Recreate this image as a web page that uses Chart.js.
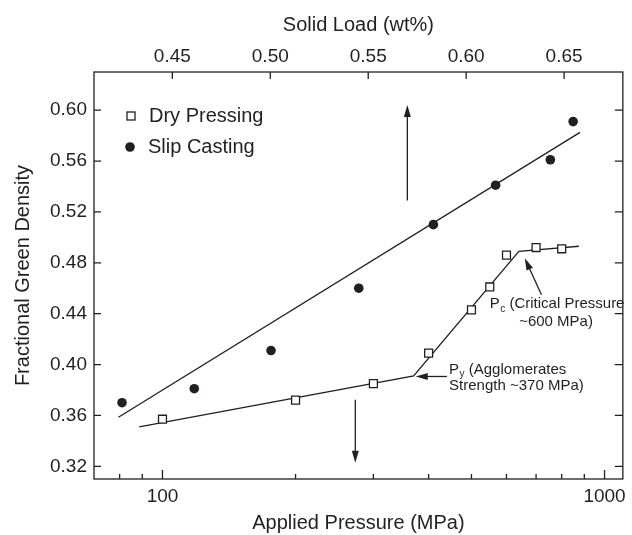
<!DOCTYPE html>
<html>
<head>
<meta charset="utf-8">
<script src="https://cdn.jsdelivr.net/npm/chart.js@4.4.1/dist/chart.umd.min.js"></script>
<style>
  html, body { margin: 0; padding: 0; background: #fff; }
</style>
</head>
<body>
<canvas id="green-density" width="632" height="535"></canvas>
<script>
// dry pressing (open squares)
var dryPressure = [100, 200, 300, 400, 500, 550, 600, 700, 800];
var dryDensity = [0.357, 0.372, 0.385, 0.409, 0.443, 0.461, 0.486, 0.492, 0.491];

// slip casting (filled circles)
var slipPressure = [81, 118, 176, 278, 410, 567, 754, 849];
var slipDensity = [0.370, 0.381, 0.411, 0.460, 0.510, 0.541, 0.561, 0.591];

// fitted lines as drawn in the figure
var dryFitPressure = [88.6, 370, 640, 875];
var dryFitDensity = [0.351, 0.391, 0.489, 0.493];
var slipFitPressure = [79.5, 880];
var slipFitDensity = [0.3585, 0.5825];

// axes
var densityTicks = [0.32, 0.36, 0.40, 0.44, 0.48, 0.52, 0.56, 0.60];
var pressureTicks = [80, 90, 100, 200, 300, 400, 500, 600, 700, 800, 900, 1000];
var pressureLabels = [100, 1000];
var solidLoadTicks = [0.45, 0.50, 0.55, 0.60, 0.65];

// arrows and notes, in (MPa, density)
var arrows = [
    { from: [358, 0.529], to: [358, 0.604] },
    { from: [273, 0.3724], to: [273, 0.3227] },
    { from: [720, 0.4548], to: [660, 0.4836] },
    { from: [440, 0.3906], to: [374, 0.3906] }
];
var notes = [
    { at: [550, 0.4477], main: 'P', sub: 'c', rest: ' (Critical Pressure' },
    { at: [641, 0.4338], main: '~600 MPa)', sub: '', rest: '' },
    { at: [445, 0.3959], main: 'P', sub: 'y', rest: ' (Agglomerates' },
    { at: [445, 0.3833], main: 'Strength ~370 MPa)', sub: '', rest: '' }
];

var ink = '#231f20';
var family = "'Liberation Sans', Arial, Helvetica, sans-serif";

function pairs(xs, ys) {
    return xs.map(function (x, i) { return { x: x, y: ys[i] }; });
}

const frameTicks = {
    id: 'frameTicks',
    afterDraw(chart) {
        const ctx = chart.ctx;
        const a = chart.chartArea;
        const s = chart.scales;
        ctx.save();
        ctx.strokeStyle = ink;
        ctx.lineWidth = 1.3;
        ctx.strokeRect(a.left, a.top, a.right - a.left, a.bottom - a.top);
        ctx.beginPath();
        densityTicks.forEach(function (v) {
            const y = s.y.getPixelForValue(v);
            ctx.moveTo(a.left, y); ctx.lineTo(a.left + 7, y);
            ctx.moveTo(a.right, y); ctx.lineTo(a.right - 8, y);
        });
        pressureTicks.forEach(function (v) {
            const x = s.x.getPixelForValue(v);
            const len = pressureLabels.includes(v) ? 9 : 5;
            ctx.moveTo(x, a.bottom); ctx.lineTo(x, a.bottom - len);
        });
        solidLoadTicks.forEach(function (v) {
            const x = s.x2.getPixelForValue(v);
            ctx.moveTo(x, a.top); ctx.lineTo(x, a.top + 7);
        });
        ctx.stroke();
        ctx.restore();
    }
};

const notesAndArrows = {
    id: 'notesAndArrows',
    afterDatasetsDraw(chart) {
        const ctx = chart.ctx;
        const sx = chart.scales.x;
        const sy = chart.scales.y;
        ctx.save();
        ctx.strokeStyle = ink;
        ctx.fillStyle = ink;
        ctx.lineWidth = 1.3;
        arrows.forEach(function (ar) {
            const x0 = sx.getPixelForValue(ar.from[0]), y0 = sy.getPixelForValue(ar.from[1]);
            const x1 = sx.getPixelForValue(ar.to[0]), y1 = sy.getPixelForValue(ar.to[1]);
            const ang = Math.atan2(y1 - y0, x1 - x0);
            const hl = 12, hw = 3.5;
            ctx.beginPath();
            ctx.moveTo(x0, y0);
            ctx.lineTo(x1 - Math.cos(ang) * hl * 0.8, y1 - Math.sin(ang) * hl * 0.8);
            ctx.stroke();
            ctx.beginPath();
            ctx.moveTo(x1, y1);
            ctx.lineTo(x1 - Math.cos(ang) * hl - Math.sin(ang) * hw, y1 - Math.sin(ang) * hl + Math.cos(ang) * hw);
            ctx.lineTo(x1 - Math.cos(ang) * hl + Math.sin(ang) * hw, y1 - Math.sin(ang) * hl - Math.cos(ang) * hw);
            ctx.closePath();
            ctx.fill();
        });
        ctx.textBaseline = 'middle';
        ctx.textAlign = 'left';
        notes.forEach(function (n) {
            let x = sx.getPixelForValue(n.at[0]);
            const y = sy.getPixelForValue(n.at[1]);
            ctx.font = '15px ' + family;
            ctx.fillText(n.main, x, y);
            x += ctx.measureText(n.main).width;
            if (n.sub) {
                ctx.font = '10px ' + family;
                ctx.fillText(n.sub, x + 0.5, y + 5);
                x += ctx.measureText(n.sub).width + 0.5;
            }
            if (n.rest) {
                ctx.font = '15px ' + family;
                ctx.fillText(n.rest, x, y);
            }
        });
        ctx.restore();
    }
};

const insideLegend = {
    id: 'insideLegend',
    afterDatasetsDraw(chart) {
        const ctx = chart.ctx;
        const a = chart.chartArea;
        ctx.save();
        ctx.strokeStyle = ink;
        ctx.fillStyle = ink;
        ctx.lineWidth = 1.3;
        // Dry Pressing
        let cx = a.left + 37, cy = a.top + 44;
        ctx.fillStyle = '#fff';
        ctx.fillRect(cx - 4, cy - 4, 8, 8);
        ctx.strokeRect(cx - 4, cy - 4, 8, 8);
        ctx.fillStyle = ink;
        ctx.font = '20px ' + family;
        ctx.textBaseline = 'middle';
        ctx.fillText(chart.data.datasets[0].label, a.left + 55, cy);
        // Slip Casting
        cx = a.left + 36; cy = a.top + 75;
        ctx.beginPath();
        ctx.arc(cx, cy, 4.8, 0, Math.PI * 2);
        ctx.fill();
        ctx.fillText(chart.data.datasets[1].label, a.left + 54, cy);
        ctx.restore();
    }
};

const tickFont = { family: family, size: 19 };
const titleFont = { family: family, size: 20 };

const ctx = document.getElementById('green-density');

var densityChart = new Chart(ctx, {
    type: 'scatter',
    data: {
        datasets: [{
            label: 'Dry Pressing',
            data: pairs(dryPressure, dryDensity),
            pointStyle: 'rect',
            pointRadius: 5.6,
            backgroundColor: '#fff',
            borderColor: ink,
            borderWidth: 1.3,
            order: 1
        }, {
            label: 'Slip Casting',
            data: pairs(slipPressure, slipDensity),
            pointStyle: 'circle',
            pointRadius: 4.8,
            backgroundColor: ink,
            borderColor: ink,
            borderWidth: 0,
            order: 1
        }, {
            label: 'Dry fit',
            data: pairs(dryFitPressure, dryFitDensity),
            showLine: true,
            pointRadius: 0,
            borderColor: ink,
            borderWidth: 1.3,
            order: 2
        }, {
            label: 'Slip fit',
            data: pairs(slipFitPressure, slipFitDensity),
            showLine: true,
            pointRadius: 0,
            borderColor: ink,
            borderWidth: 1.3,
            order: 2
        }]
    },
    options: {
        responsive: false,
        animation: false,
        layout: {
            padding: { right: 5 }
        },
        plugins: {
            legend: { display: false },
            tooltip: { enabled: false }
        },
        scales: {
            x: {
                type: 'logarithmic',
                position: 'bottom',
                min: 70,
                max: 1100,
                afterBuildTicks: function (scale) {
                    scale.ticks = pressureTicks.map(function (v) { return { value: v }; });
                },
                afterFit: function (scale) { scale.height = 56; },
                grid: { display: false, drawTicks: false },
                border: { display: false },
                ticks: {
                    autoSkip: false,
                    maxRotation: 0,
                    padding: 6,
                    color: ink,
                    font: tickFont,
                    callback: function (v) { return pressureLabels.includes(v) ? String(v) : ''; }
                },
                title: {
                    display: true,
                    text: 'Applied Pressure (MPa)',
                    color: ink,
                    font: titleFont,
                    padding: { top: 0, bottom: 0 }
                }
            },
            x2: {
                type: 'linear',
                position: 'top',
                min: 0.41,
                max: 0.68,
                afterBuildTicks: function (scale) {
                    scale.ticks = solidLoadTicks.map(function (v) { return { value: v }; });
                },
                afterFit: function (scale) { scale.height = 72; },
                grid: { display: false, drawTicks: false },
                border: { display: false },
                ticks: {
                    autoSkip: false,
                    maxRotation: 0,
                    padding: 4,
                    color: ink,
                    font: tickFont,
                    callback: function (v) { return v.toFixed(2); }
                },
                title: {
                    display: true,
                    text: 'Solid Load (wt%)',
                    color: ink,
                    font: titleFont,
                    padding: { top: 13, bottom: 0 }
                }
            },
            y: {
                type: 'linear',
                min: 0.31,
                max: 0.63,
                afterBuildTicks: function (scale) {
                    scale.ticks = densityTicks.map(function (v) { return { value: v }; });
                },
                afterFit: function (scale) { scale.width = 94; },
                grid: { display: false, drawTicks: false },
                border: { display: false },
                ticks: {
                    autoSkip: false,
                    padding: 7,
                    color: ink,
                    font: tickFont,
                    callback: function (v) { return v.toFixed(2); }
                },
                title: {
                    display: true,
                    text: 'Fractional Green Density',
                    color: ink,
                    font: titleFont,
                    padding: { top: 11, bottom: 0 }
                }
            }
        }
    },
    plugins: [frameTicks, notesAndArrows, insideLegend]
});
</script>
</body>
</html>
